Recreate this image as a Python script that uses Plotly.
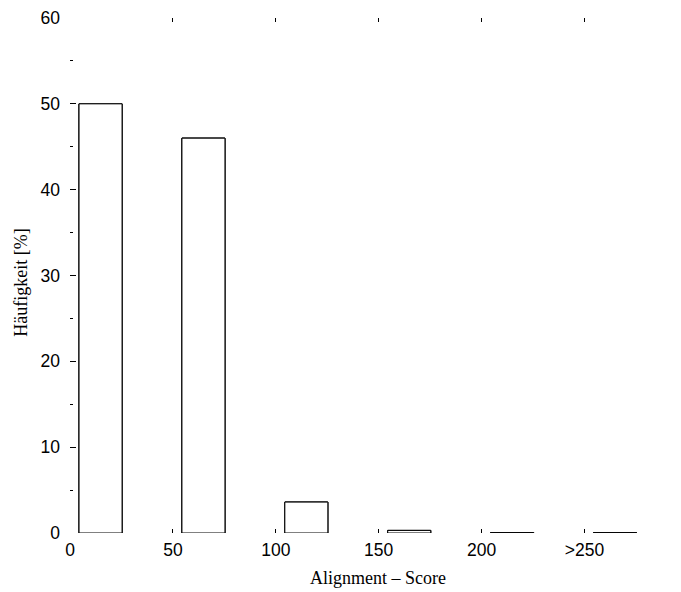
import plotly.graph_objects as go

bin_starts = [0, 50, 100, 150, 200, 250]
tick_labels = ["0", "50", "100", "150", "200", ">250"]
frequency = [50.0, 46.0, 3.6, 0.3, 0.05, 0.05]
y_major = [0, 10, 20, 30, 40, 50, 60]
y_minor = [5, 15, 25, 35, 45, 55]

bar_offset = 4.4
bar_width = 20.9
centers = [b + bar_offset + bar_width / 2 for b in bin_starts]
bar_style = dict(color="white", line=dict(color="black", width=1))

fig = go.Figure()
# identical bars on the label-only axes (x2 / y2) so those axes are drawn
fig.add_trace(go.Bar(x=centers, y=frequency, width=bar_width, marker=bar_style,
                     xaxis="x2", yaxis="y", hoverinfo="skip"))
fig.add_trace(go.Bar(x=centers, y=frequency, width=bar_width, marker=bar_style,
                     xaxis="x", yaxis="y2", hoverinfo="skip"))
fig.add_trace(go.Bar(x=centers, y=frequency, width=bar_width, marker=bar_style,
                     xaxis="x", yaxis="y"))

x_range = [0, 277]
y_range = [0, 60]
fig.update_layout(
    width=673, height=584,
    margin=dict(l=62, r=41, t=10, b=59, autoexpand=False),
    plot_bgcolor="white", paper_bgcolor="white",
    showlegend=False, barmode="overlay",
    font=dict(family="Liberation Sans, Arial", size=17.5, color="black"),
    xaxis=dict(
        range=x_range, tickmode="array", tickvals=bin_starts,
        showticklabels=False,
        ticks="inside", ticklen=4, tickcolor="black", tickwidth=1,
        mirror="ticks", showline=False, showgrid=False, zeroline=False,
        automargin=False,
    ),
    xaxis2=dict(
        range=x_range, overlaying="x", side="bottom",
        tickmode="array", tickvals=bin_starts, ticktext=tick_labels,
        ticks="", ticklabelstandoff=4,
        showline=False, showgrid=False, zeroline=False, automargin=False,
    ),
    yaxis=dict(
        range=y_range, tickmode="array", tickvals=y_major,
        showticklabels=False,
        ticks="inside", ticklen=6, tickcolor="black", tickwidth=1,
        showline=False, showgrid=False, zeroline=False,
        minor=dict(tickvals=y_minor, ticks="inside", ticklen=3,
                   tickcolor="black", showgrid=False),
        automargin=False,
    ),
    yaxis2=dict(
        range=y_range, overlaying="y", side="left",
        tickmode="array", tickvals=y_major,
        ticks="", ticklabelstandoff=9,
        showline=False, showgrid=False, zeroline=False, automargin=False,
    ),
    annotations=[
        dict(text="Alignment – Score", xref="paper", yref="paper", x=0.540, y=-0.064,
             xanchor="center", yanchor="top", showarrow=False,
             font=dict(family="Liberation Serif, Times New Roman", size=18)),
        dict(text="Häufigkeit [%]", xref="paper", yref="paper", x=-0.085, y=0.485,
             xanchor="center", yanchor="middle", showarrow=False, textangle=-90,
             font=dict(family="Liberation Serif, Times New Roman", size=18)),
    ],
)

fig.write_html("out.html")
